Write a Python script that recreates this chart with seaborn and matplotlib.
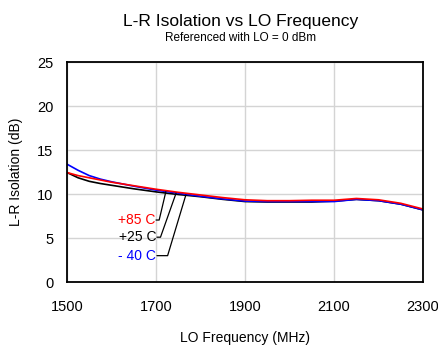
import numpy as np
import pandas as pd
import matplotlib
matplotlib.use('Agg')
import matplotlib.pyplot as plt
import seaborn as sns

freq = [1500, 1525, 1550, 1575, 1600, 1650, 1700, 1750, 1800, 1850, 1900,
        1950, 2000, 2050, 2100, 2150, 2200, 2250, 2300]
iso_25 = [12.45, 11.85, 11.45, 11.2, 11.0, 10.6, 10.25, 9.95, 9.7, 9.4, 9.15,
          9.1, 9.1, 9.1, 9.2, 9.4, 9.25, 8.85, 8.2]
iso_m40 = [13.4, 12.7, 12.1, 11.7, 11.4, 10.9, 10.45, 10.1, 9.75, 9.45, 9.2,
           9.15, 9.15, 9.15, 9.15, 9.4, 9.25, 8.85, 8.2]
iso_85 = [12.45, 12.1, 11.85, 11.6, 11.35, 10.95, 10.55, 10.2, 9.9, 9.6, 9.35,
          9.25, 9.25, 9.3, 9.3, 9.5, 9.35, 8.95, 8.3]

labels = ['+85 C', '+25 C', '- 40 C']
colors = ['#ff0000', '#000000', '#0000ff']

df = pd.DataFrame({'LO': freq * 3,
                   'iso': iso_25 + iso_m40 + iso_85,
                   'temp': ['+25 C'] * len(freq) + ['- 40 C'] * len(freq) + ['+85 C'] * len(freq)})

sns.set_style('white')
plt.rcParams['font.family'] = ['Liberation Sans', 'DejaVu Sans']
plt.rcParams['text.color'] = 'black'
plt.rcParams['axes.labelcolor'] = 'black'
plt.rcParams['xtick.color'] = 'black'
plt.rcParams['ytick.color'] = 'black'

fig, ax = plt.subplots(figsize=(4.38, 3.53), dpi=100)
fig.subplots_adjust(left=0.153, right=0.966, top=0.824, bottom=0.201)

sns.lineplot(data=df, x='LO', y='iso', hue='temp',
             hue_order=['+25 C', '- 40 C', '+85 C'],
             palette=['#000000', '#0000ff', '#ff0000'],
             linewidth=1.2, legend=False, ax=ax)

ax.set_xlim(1500, 2300)
ax.set_ylim(0, 25)
ax.set_xticks([1500, 1700, 1900, 2100, 2300])
ax.set_yticks([0, 5, 10, 15, 20, 25])
ax.grid(True, color='#d4d4d4', linewidth=1)
ax.tick_params(length=0, labelsize=10.5)
ax.tick_params(axis='x', pad=13)
ax.tick_params(axis='y', pad=10)
for s in ax.spines.values():
    s.set_color('black')
    s.set_linewidth(1.3)

ax.set_xlabel('LO Frequency (MHz)', fontsize=10, labelpad=12)
ax.set_ylabel('L-R Isolation (dB)', fontsize=10, labelpad=10)

fig.text(0.55, 0.925, 'L-R Isolation vs LO Frequency', ha='center', fontsize=12.5)
fig.text(0.55, 0.885, 'Referenced with LO = 0 dBm', ha='center', fontsize=8.5)

# leader lines to the curves
text_pos = [(1698, 7.05), (1700, 5.1), (1700, 3.0)]
bend_x = [1707, 1710, 1726]
curve_pt = [(1722, 10.26), (1745, 10.1), (1767, 9.9)]
for lab, c, (tx, ty), bx, (cx, cy) in zip(labels, colors, text_pos, bend_x, curve_pt):
    ax.text(tx, ty, lab, color=c, ha='right', va='center', fontsize=10)
    ax.plot([tx + 2, bx, cx], [ty, ty, cy], color='black', linewidth=0.9)

fig.savefig('out.png', dpi=100)
